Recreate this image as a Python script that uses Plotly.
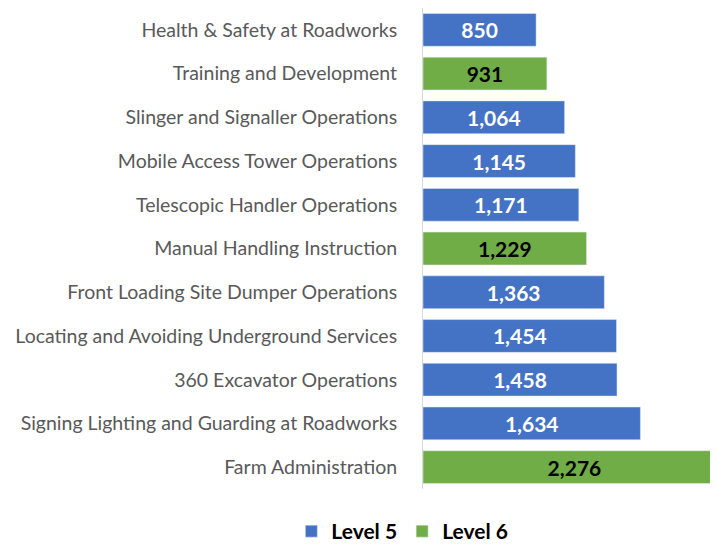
import plotly.graph_objects as go

# Courses, top to bottom
courses = [
    "Health & Safety at Roadworks",
    "Training and Development",
    "Slinger and Signaller Operations",
    "Mobile Access Tower Operations",
    "Telescopic Handler Operations",
    "Manual Handling Instruction",
    "Front Loading Site Dumper Operations",
    "Locating and Avoiding Underground Services",
    "360 Excavator Operations",
    "Signing Lighting and Guarding at Roadworks",
    "Farm Administration",
]
level_5 = [850, None, 1064, 1145, 1171, None, 1363, 1454, 1458, 1634, None]
level_6 = [None, 931, None, None, None, 1229, None, None, None, None, 2276]

font = "Lato, Open Sans, sans-serif"

fig = go.Figure()
fig.add_trace(
    go.Bar(
        y=courses, x=level_5, name="Level 5", orientation="h",
        marker=dict(color="#4472C4"),
        texttemplate="%{x:,}", textposition="inside", insidetextanchor="middle",
        textangle=0, textfont=dict(color="white", size=21, family=font, weight="bold"),
    )
)
fig.add_trace(
    go.Bar(
        y=courses, x=level_6, name="Level 6", orientation="h",
        marker=dict(color="#70AD47"),
        texttemplate="%{x:,}", textposition="inside", insidetextanchor="middle",
        textangle=0, textfont=dict(color="black", size=21, family=font, weight="bold"),
    )
)

# page has an 8px body margin, so the figure is 8px smaller than the window
fig.update_layout(
    width=710, height=544,
    barmode="overlay", bargap=0.25,
    plot_bgcolor="white", paper_bgcolor="white",
    margin=dict(l=415, r=0, t=0, b=63),
    font=dict(family=font),
    showlegend=True,
    legend=dict(
        orientation="h",
        x=-0.07, xanchor="center", y=-0.131, yanchor="bottom",
        font=dict(size=21, color="black", weight="bold"),
        itemwidth=30,
    ),
    xaxis=dict(range=[0, 2217], visible=False),
    yaxis=dict(
        autorange="reversed", showline=True, linecolor="#D9D9D9", linewidth=1,
        ticks="", showgrid=False, automargin=False,
        tickfont=dict(size=19.5, color="#595959"),
        ticklabelstandoff=21,
    ),
)

fig.write_html("out.html")
